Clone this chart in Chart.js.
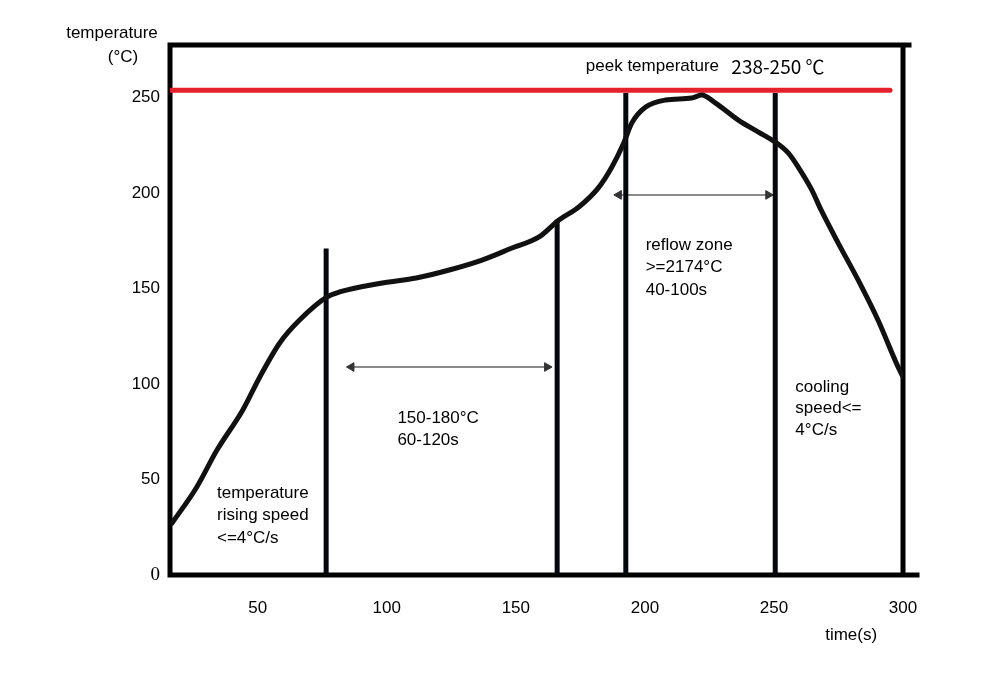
<!DOCTYPE html>
<html>
<head>
<meta charset="utf-8">
<script src="https://cdn.jsdelivr.net/npm/chart.js@4/dist/chart.umd.min.js"></script>
<style>
  html, body { margin: 0; padding: 0; background: #fff; }
  #wrap { width: 989px; height: 675px; position: relative; }
</style>
</head>
<body>
<div id="wrap"><canvas id="c" width="989" height="675"></canvas></div>
<script>
// ---- data ----
const timeS = [16.8, 26.4, 34.2, 44.2, 50.8, 58.5, 66.2, 76.7, 81.7, 98.3, 111.4, 124.2, 136.9, 148.5, 159.0, 166.7, 174.4, 182.2, 187.2, 191.8, 194.9, 200.3, 208.0, 218.1, 222.0, 227.4, 236.2, 244.0, 250.5, 255.6, 259.4, 264.5, 268.3, 274.9, 282.6, 290.3, 298.1, 299.9];
const tempC = [27.2, 46.1, 65.4, 86.4, 103.7, 121.5, 133.5, 145.5, 148.2, 152.9, 155.5, 159.7, 164.9, 171.2, 177.0, 185.9, 192.7, 203.1, 213.6, 226.2, 236.6, 245.0, 248.7, 249.7, 251.3, 247.1, 238.2, 231.9, 226.7, 220.9, 213.6, 202.0, 191.0, 173.8, 154.5, 133.5, 108.9, 104.0];

const xTickLabels = [50, 100, 150, 200, 250, 300];
const yTickLabels = [0, 50, 100, 150, 200, 250];

const zoneBoundaryTimes = [76.5, 166.0, 192.6, 250.5];
const zoneBoundaryTops  = [171.0, 186.0, 252.4, 252.4];

const peakLineTemp = 253.8;
const peakLineTimes = [16, 295];

const soakArrowTemp = 108.9;
const soakArrowTimes = [86.3, 162.1];
const reflowArrowTemp = 199.0;
const reflowArrowTimes = [189.9, 247.8];

const xRange = [16, 300];
const yRange = [0, 277.5];

// text annotations (time, temperature anchor; lines)
const notes = [
  { t: 34.2,  c: 42.9,  lines: ['temperature', 'rising speed', '<=4°C/s'], gap: 22.5 },
  { t: 104.1, c: 82.2,  lines: ['150-180°C', '60-120s'], gap: 22 },
  { t: 200.3, c: 172.8, lines: ['reflow zone', '>=2174°C', '40-100s'], gap: 22.5 },
  { t: 258.3, c: 98.4,  lines: ['cooling', 'speed<=', '4°C/s'], gap: 21.5 }
];

// ---- build datasets ----
const datasets = [];
datasets.push({
  label: 'profile',
  data: timeS.map((t, i) => ({ x: t, y: tempC[i] })),
  borderColor: '#111',
  borderWidth: 5,
  pointRadius: 0,
  cubicInterpolationMode: 'monotone',
  borderCapStyle: 'round',
  borderJoinStyle: 'round',
  order: 1
});
datasets.push({
  label: 'peak',
  data: peakLineTimes.map(t => ({ x: t, y: peakLineTemp })),
  borderColor: '#e4202b',
  borderWidth: 5,
  pointRadius: 0,
  borderCapStyle: 'round',
  order: 2
});
zoneBoundaryTimes.forEach((t, i) => {
  datasets.push({
    label: 'zone' + i,
    data: [{ x: t, y: yRange[0] }, { x: t, y: zoneBoundaryTops[i] }],
    borderColor: '#06060f',
    borderWidth: 5,
    pointRadius: 0,
    order: 3
  });
});
function arrowSet(times, temp) {
  return {
    label: 'arrow',
    data: times.map(t => ({ x: t, y: temp })),
    borderColor: '#8a8a8a',
    borderWidth: 2,
    pointStyle: 'triangle',
    rotation: [-90, 90],
    pointRadius: 5,
    pointBackgroundColor: '#333',
    pointBorderColor: '#333',
    pointBorderWidth: 1,
    order: 4
  };
}
datasets.push(arrowSet(soakArrowTimes, soakArrowTemp));
datasets.push(arrowSet(reflowArrowTimes, reflowArrowTemp));

const SANS = '"Liberation Sans", Arial, sans-serif';

const decoPlugin = {
  id: 'deco',
  beforeDatasetsDraw(chart) {
    const { ctx, chartArea: a } = chart;
    ctx.save();
    ctx.strokeStyle = '#000';
    ctx.lineWidth = 5;
    ctx.lineCap = 'square';
    ctx.beginPath();
    ctx.moveTo(a.left, a.bottom); ctx.lineTo(a.left, a.top);
    ctx.lineTo(a.right + 6, a.top);
    ctx.moveTo(a.right, a.top); ctx.lineTo(a.right, a.bottom);
    ctx.moveTo(a.left, a.bottom); ctx.lineTo(a.right + 14, a.bottom);
    ctx.stroke();
    ctx.restore();
  },
  afterDatasetsDraw(chart) {
    const { ctx, chartArea: a, scales: { x, y } } = chart;
    ctx.save();
    ctx.fillStyle = '#000';
    ctx.textBaseline = 'middle';
    ctx.textAlign = 'left';
    ctx.font = '17px ' + SANS;
    notes.forEach(n => {
      const px = x.getPixelForValue(n.t);
      const py = y.getPixelForValue(n.c);
      n.lines.forEach((l, i) => ctx.fillText(l, px, py + i * n.gap));
    });
    // peak label
    const py = y.getPixelForValue(266.5);
    ctx.fillText('peek temperature', x.getPixelForValue(177.1), py);
    ctx.font = '19px "Noto Sans CJK SC", "DejaVu Sans", sans-serif';
    ctx.fillText('238-250 ℃', x.getPixelForValue(233.5), py + 1);
    // axis titles
    ctx.font = '17px ' + SANS;
    ctx.textAlign = 'center';
    ctx.fillText('temperature', a.left - 58, a.top - 12);
    ctx.fillText('(°C)', a.left - 47, a.top + 12);
    ctx.fillText('time(s)', x.getPixelForValue(279.9), a.bottom + 60);
    ctx.restore();
  }
};

new Chart(document.getElementById('c'), {
  type: 'line',
  data: { datasets },
  options: {
    responsive: false,
    animation: false,
    devicePixelRatio: 1,
    layout: { padding: { top: 45, right: 86, left: 0, bottom: 0 } },
    plugins: { legend: { display: false }, tooltip: { enabled: false } },
    scales: {
      x: {
        type: 'linear',
        min: xRange[0], max: xRange[1],
        afterBuildTicks: s => { s.ticks = xTickLabels.map(v => ({ value: v })); },
        afterFit: s => { s.height = 100; },
        grid: { display: false, drawTicks: false },
        border: { display: false },
        ticks: { color: '#000', padding: 23, font: { family: SANS, size: 17 }, maxRotation: 0, autoSkip: false }
      },
      y: {
        type: 'linear',
        min: yRange[0], max: yRange[1],
        afterBuildTicks: s => { s.ticks = yTickLabels.map(v => ({ value: v })); },
        afterFit: s => { s.width = 170; },
        grid: { display: false, drawTicks: false },
        border: { display: false },
        ticks: {
          color: '#000', padding: 10, autoSkip: false,
          font: ctx => (ctx.tick && ctx.tick.value === 0)
            ? { family: '"Liberation Serif", serif', size: 19 }
            : { family: SANS, size: 17 }
        }
      }
    }
  },
  plugins: [decoPlugin]
});
</script>
</body>
</html>
